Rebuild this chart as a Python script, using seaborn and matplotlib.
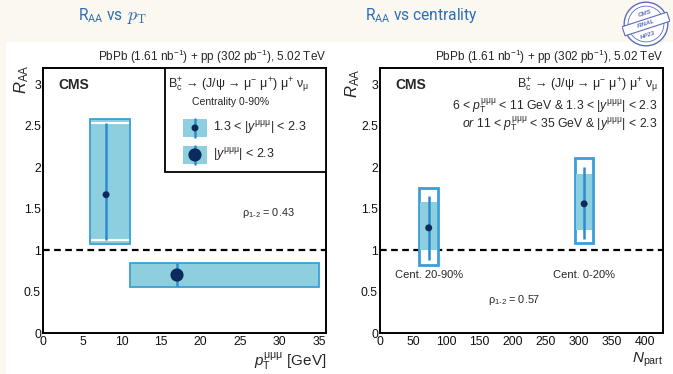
import matplotlib
matplotlib.use("Agg")
import matplotlib.pyplot as plt
import matplotlib.transforms as mtransforms
from matplotlib.patches import Rectangle, Circle
from matplotlib.ticker import MultipleLocator, FuncFormatter
import numpy as np
import pandas as pd
import seaborn as sns

# ---------------- data ----------------
pt_bin_lo = [6, 11]
pt_bin_hi = [11, 35]
pt_point = [8, 17]
raa_pt = [1.67, 0.70]
raa_pt_stat_lo = [1.12, 0.57]
raa_pt_stat_hi = [2.53, 0.84]
raa_pt_syst_lo = [1.07, 0.56]
raa_pt_syst_hi = [2.58, 0.85]
pt_marker_area = [25, 90]

npart = [73.5, 308]
npart_halfwidth = [14, 14]
raa_cent = [1.27, 1.56]
raa_cent_stat_lo = [0.88, 1.14]
raa_cent_stat_hi = [1.66, 2.00]
raa_cent_unc_lo = [1.00, 1.24]
raa_cent_unc_hi = [1.58, 1.92]
raa_cent_tot_lo = [0.82, 1.09]
raa_cent_tot_hi = [1.75, 2.11]
cent_labels = ["Cent. 20-90%", "Cent. 0-20%"]

rho_pt = "0.43"
rho_cent = "0.57"
header = "PbPb (1.61 nb$^{\\mathregular{-1}}$) + pp (302 pb$^{\\mathregular{-1}}$), 5.02 TeV"

# ---------------- style ----------------
sns.set_style("white")
plt.rcParams["font.family"] = ["Liberation Sans", "DejaVu Sans"]
plt.rcParams["mathtext.fontset"] = "custom"
plt.rcParams["mathtext.rm"] = "Liberation Sans"
plt.rcParams["mathtext.it"] = "Liberation Sans:italic"
plt.rcParams["mathtext.bf"] = "Liberation Sans:bold"

FILL = "#8DCFDF"
EDGE = "#3A9FD8"
BAR = "#2E8CCD"
DOT = "#0B2B5C"
TITLE_C = "#2C6DB5"

MU3 = "{\\mathrm{\\mu\\mu\\mu}}"

W, H = 673, 374
fig = plt.figure(figsize=(W / 100, H / 100), dpi=100)
fig.patch.set_facecolor("#FBF8F0")
fig.patches.append(Rectangle((6 / W, 0), 1, 1 - 42 / H, transform=fig.transFigure,
                             facecolor="white", edgecolor="none", zorder=-10))


def px_axes(x0, x1, ytop, ybot):
    return fig.add_axes([x0 / W, 1 - ybot / H, (x1 - x0) / W, (ybot - ytop) / H])


axL = px_axes(43, 326, 68, 333)
axR = px_axes(380, 663, 68, 333)

fmt = FuncFormatter(lambda v, p: f"{v:g}")
for ax, xmax, xmaj, xmin in [(axL, 35.9, 5, 1), (axR, 427, 50, 10)]:
    ax.set_facecolor("white")
    ax.set_xlim(0, xmax)
    ax.set_ylim(0, 3.2)
    ax.xaxis.set_major_locator(MultipleLocator(xmaj))
    ax.xaxis.set_minor_locator(MultipleLocator(xmin))
    ax.yaxis.set_major_locator(MultipleLocator(0.5))
    ax.yaxis.set_minor_locator(MultipleLocator(0.1))
    ax.xaxis.set_major_formatter(fmt)
    ax.yaxis.set_major_formatter(fmt)
    ax.tick_params(which="both", direction="in", color="black", width=1.0,
                   labelsize=8.8, labelcolor="#111111")
    ax.tick_params(which="major", length=6)
    ax.tick_params(which="minor", length=3.5)
    ax.tick_params(axis="x", pad=2)
    ax.tick_params(axis="y", pad=1.5)
    for s in ax.spines.values():
        s.set_linewidth(1.4)
        s.set_color("black")
    ax.axhline(1.0, color="black", lw=1.6, ls=(0, (3, 2)), zorder=1)
    ax.text(0.053, 0.936, "CMS", transform=ax.transAxes, fontsize=10,
            fontweight="bold", ha="left", va="center")
    ax.text(1.0, 1.042, header, transform=ax.transAxes, fontsize=8.5,
            ha="right", va="center")

# ---------------- left: RAA vs pT ----------------
ctr = [(a + b) / 2 for a, b in zip(pt_bin_lo, pt_bin_hi)]
wid = [b - a for a, b in zip(pt_bin_lo, pt_bin_hi)]
axL.bar(ctr, [h - l for l, h in zip(raa_pt_syst_lo, raa_pt_syst_hi)], width=wid,
        bottom=raa_pt_syst_lo, color=FILL, edgecolor=EDGE, linewidth=1.3, zorder=2)
for i in range(len(pt_point)):
    if raa_pt_syst_hi[i] - raa_pt_stat_hi[i] > 0.03:
        axL.hlines([raa_pt_stat_lo[i], raa_pt_stat_hi[i]], pt_bin_lo[i] + 0.12,
                   pt_bin_hi[i] - 0.12, color="white", lw=1.5, zorder=3)
axL.vlines(pt_point, raa_pt_stat_lo, raa_pt_stat_hi, color=BAR, lw=1.8, zorder=4)
dfL = pd.DataFrame({"pt": pt_point, "raa": raa_pt, "s": pt_marker_area})
for _, r in dfL.iterrows():
    sns.scatterplot(x=[r.pt], y=[r.raa], s=r.s, color=DOT, edgecolor="none",
                    ax=axL, zorder=5, legend=False)
axL.set_xlabel("")
axL.set_ylabel("")

axL.text(-0.075, 1.012, "$R_{\\mathrm{AA}}$", transform=axL.transAxes, rotation=90,
         fontsize=12, ha="center", va="top")
axL.text(1.0, -0.108, "$p_{\\mathrm{T}}^" + MU3 + "$ [GeV]", transform=axL.transAxes,
         fontsize=11, ha="right", va="center")

# legend box
axL.add_patch(Rectangle((0.431, 0.6075), 0.569, 0.3925, transform=axL.transAxes,
                        facecolor="white", edgecolor="black", lw=1.3, zorder=6))
axL.text(0.442, 0.936,
         "B$_{\\mathrm{c}}^{+}$ → (J/ψ → μ$^{-}$ μ$^{+}$) μ$^{+}$ ν$_{\\mathrm{\\mu}}$",
         transform=axL.transAxes, fontsize=9, ha="left", va="center", zorder=7)
axL.text(0.527, 0.872, "Centrality 0-90%", transform=axL.transAxes, fontsize=7.5,
         ha="left", va="center", zorder=7)
leg_labels = ["1.3 < |$y^" + MU3 + "$| < 2.3", "|$y^" + MU3 + "$| < 2.3"]
leg_y = [0.774, 0.672]
for lab, yy, area in zip(leg_labels, leg_y, pt_marker_area):
    axL.add_patch(Rectangle((0.495, yy - 0.034), 0.085, 0.068, transform=axL.transAxes,
                            facecolor=FILL, edgecolor="none", zorder=7))
    axL.plot([0.537, 0.537], [yy - 0.034, yy + 0.034], transform=axL.transAxes,
             color=BAR, lw=1.8, zorder=8, clip_on=False)
    axL.scatter([0.537], [yy], s=area, color=DOT, transform=axL.transAxes,
                zorder=9, clip_on=False, edgecolor="none")
    axL.text(0.601, yy, lab, transform=axL.transAxes, fontsize=9, ha="left",
             va="center", zorder=9)

axL.text(0.703, 0.453, "ρ$_{\\mathregular{1\\text{-}2}}$ = " + rho_pt, transform=axL.transAxes,
         fontsize=7.8, ha="left", va="center")

# ---------------- right: RAA vs centrality ----------------
axR.bar(npart, [h - l for l, h in zip(raa_cent_tot_lo, raa_cent_tot_hi)],
        width=[2 * w for w in npart_halfwidth], bottom=raa_cent_tot_lo,
        color="white", edgecolor=EDGE, linewidth=2.0, zorder=2)
axR.bar(npart, [h - l for l, h in zip(raa_cent_unc_lo, raa_cent_unc_hi)],
        width=[2 * w - 3 for w in npart_halfwidth], bottom=raa_cent_unc_lo,
        color=FILL, edgecolor="none", linewidth=0, zorder=3)
axR.vlines(npart, raa_cent_stat_lo, raa_cent_stat_hi, color=BAR, lw=1.8, zorder=4)
dfR = pd.DataFrame({"npart": npart, "raa": raa_cent})
sns.scatterplot(data=dfR, x="npart", y="raa", s=25, color=DOT, edgecolor="none",
                ax=axR, zorder=5, legend=False)
axR.set_xlabel("")
axR.set_ylabel("")

blend = mtransforms.blended_transform_factory(axR.transData, axR.transAxes)
for xv, lab in zip(npart, cent_labels):
    axR.text(xv, 0.219, lab, transform=blend, fontsize=8, ha="center", va="center")

axR.text(0.982, 0.936,
         "B$_{\\mathrm{c}}^{+}$ → (J/ψ → μ$^{-}$ μ$^{+}$) μ$^{+}$ ν$_{\\mathrm{\\mu}}$",
         transform=axR.transAxes, fontsize=9, ha="right", va="center")
axR.text(0.982, 0.853,
         "6 < $p_{\\mathrm{T}}^" + MU3 + "$ < 11 GeV & 1.3 < |$y^" + MU3 + "$| < 2.3",
         transform=axR.transAxes, fontsize=8.8, ha="right", va="center")
axR.text(0.982, 0.785,
         "$\\mathit{or}$ 11 < $p_{\\mathrm{T}}^" + MU3 + "$ < 35 GeV & |$y^" + MU3 + "$| < 2.3",
         transform=axR.transAxes, fontsize=8.8, ha="right", va="center")
axR.text(0.382, 0.125, "ρ$_{\\mathregular{1\\text{-}2}}$ = " + rho_cent, transform=axR.transAxes,
         fontsize=7.8, ha="left", va="center")
axR.text(-0.095, 1.0, "$R_{\\mathrm{AA}}$", transform=axR.transAxes, rotation=90,
         fontsize=12, ha="center", va="top")
axR.text(1.0, -0.10, "$N_{\\mathrm{part}}$", transform=axR.transAxes,
         fontsize=11, ha="right", va="center")

# ---------------- slide titles ----------------
tfont = ["Roboto", "DejaVu Sans"]
fig.text(123 / W, 1 - 20 / H, "R$_{\\mathregular{AA}}$ vs", color=TITLE_C, fontsize=11.2,
         family=tfont, ha="right", va="baseline")
fig.text(127 / W, 1 - 20 / H, "$p_\\mathrm{T}$", color=TITLE_C, fontsize=13,
         math_fontfamily="cm", ha="left", va="baseline")
fig.text(365 / W, 1 - 20 / H, "R$_{\\mathregular{AA}}$ vs centrality", color=TITLE_C,
         fontsize=11.2, family=tfont, ha="left", va="baseline")

# ---------------- stamp ----------------
sax = fig.add_axes([622 / W, 1 - 48 / H, 48 / W, 48 / H])
sax.set_xlim(-1.1, 1.1)
sax.set_ylim(-1.1, 1.1)
sax.set_aspect("equal")
sax.axis("off")
SC = "#5B6CC0"
sax.add_patch(Circle((0, 0), 1.0, facecolor="white", edgecolor=SC, lw=1.0))
sax.add_patch(Circle((0, 0), 0.82, facecolor="none", edgecolor=SC, lw=0.6))
band = Rectangle((-1.08, -0.22), 2.16, 0.44, facecolor="white", edgecolor=SC, lw=0.8,
                 transform=mtransforms.Affine2D().rotate_deg(18) + sax.transData)
sax.add_patch(band)
sax.text(0, 0, "FINAL", rotation=18, fontsize=4.5, color=SC, fontweight="bold",
         fontstyle="italic", ha="center", va="center")
sax.text(-0.05, 0.5, "CMS", rotation=18, fontsize=4.5, color=SC, fontweight="bold",
         fontstyle="italic", ha="center", va="center")
sax.text(0.08, -0.5, "HP23", rotation=18, fontsize=4.5, color=SC, fontweight="bold",
         fontstyle="italic", ha="center", va="center")

fig.savefig("out.png", dpi=100, facecolor=fig.get_facecolor())
